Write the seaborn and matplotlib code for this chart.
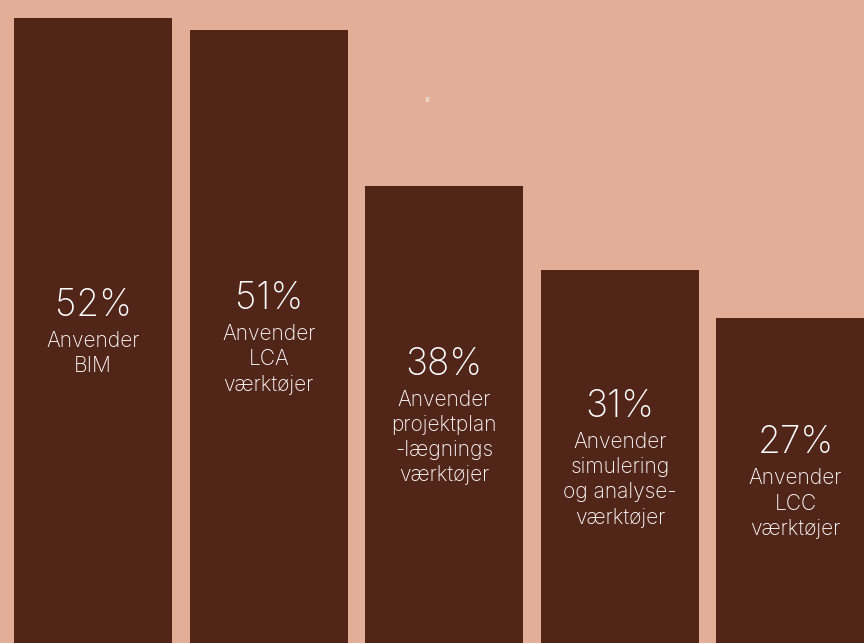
import matplotlib
matplotlib.use("Agg")
import matplotlib.pyplot as plt
import seaborn as sns
import pandas as pd

# data
values = [52, 51, 38, 31, 27]
pct_labels = ["52%", "51%", "38%", "31%", "27%"]
categories = [
    "Anvender\nBIM",
    "Anvender\nLCA\nværktøjer",
    "Anvender\nprojektplan\n-lægnings\nværktøjer",
    "Anvender\nsimulering\nog analyse-\nværktøjer",
    "Anvender\nLCC\nværktøjer",
]

bg = "#E3AE98"
bar_color = "#522519"

df = pd.DataFrame({"cat": categories, "value": values})

sns.set_style("white")
plt.rcParams["font.family"] = ["Inter", "DejaVu Sans"]

fig = plt.figure(figsize=(12, 643 / 72), dpi=72, facecolor=bg)
ax = fig.add_axes([0, 0, 1, 1])
ax.set_facecolor(bg)

sns.barplot(data=df, x="cat", y="value", color=bar_color, width=0.9,
            saturation=1, linewidth=0, edgecolor="none", ax=ax)

ax.set_xlim(-0.53, 4.39)
ax.set_ylim(0, 53.5)
ax.axis("off")

# percent + description, block centred in the bar
for i, (v, p, c) in enumerate(zip(values, pct_labels, categories)):
    n = c.count("\n") + 1
    off = 12.5 * n
    ax.annotate(p, (i, v / 2), xytext=(0, off), textcoords="offset points",
                ha="center", va="center", color="white", fontsize=37,
                fontweight="light")
    ax.annotate(c, (i, v / 2), xytext=(0, off - 25), textcoords="offset points",
                ha="center", va="top", color="white", fontsize=21,
                fontweight="light", linespacing=1.33, multialignment="center")

fig.text(427 / 864, 1 - 100 / 643, "x", color="white", fontsize=9,
         ha="center", va="center")

fig.savefig("out.png", dpi=72, facecolor=bg)
